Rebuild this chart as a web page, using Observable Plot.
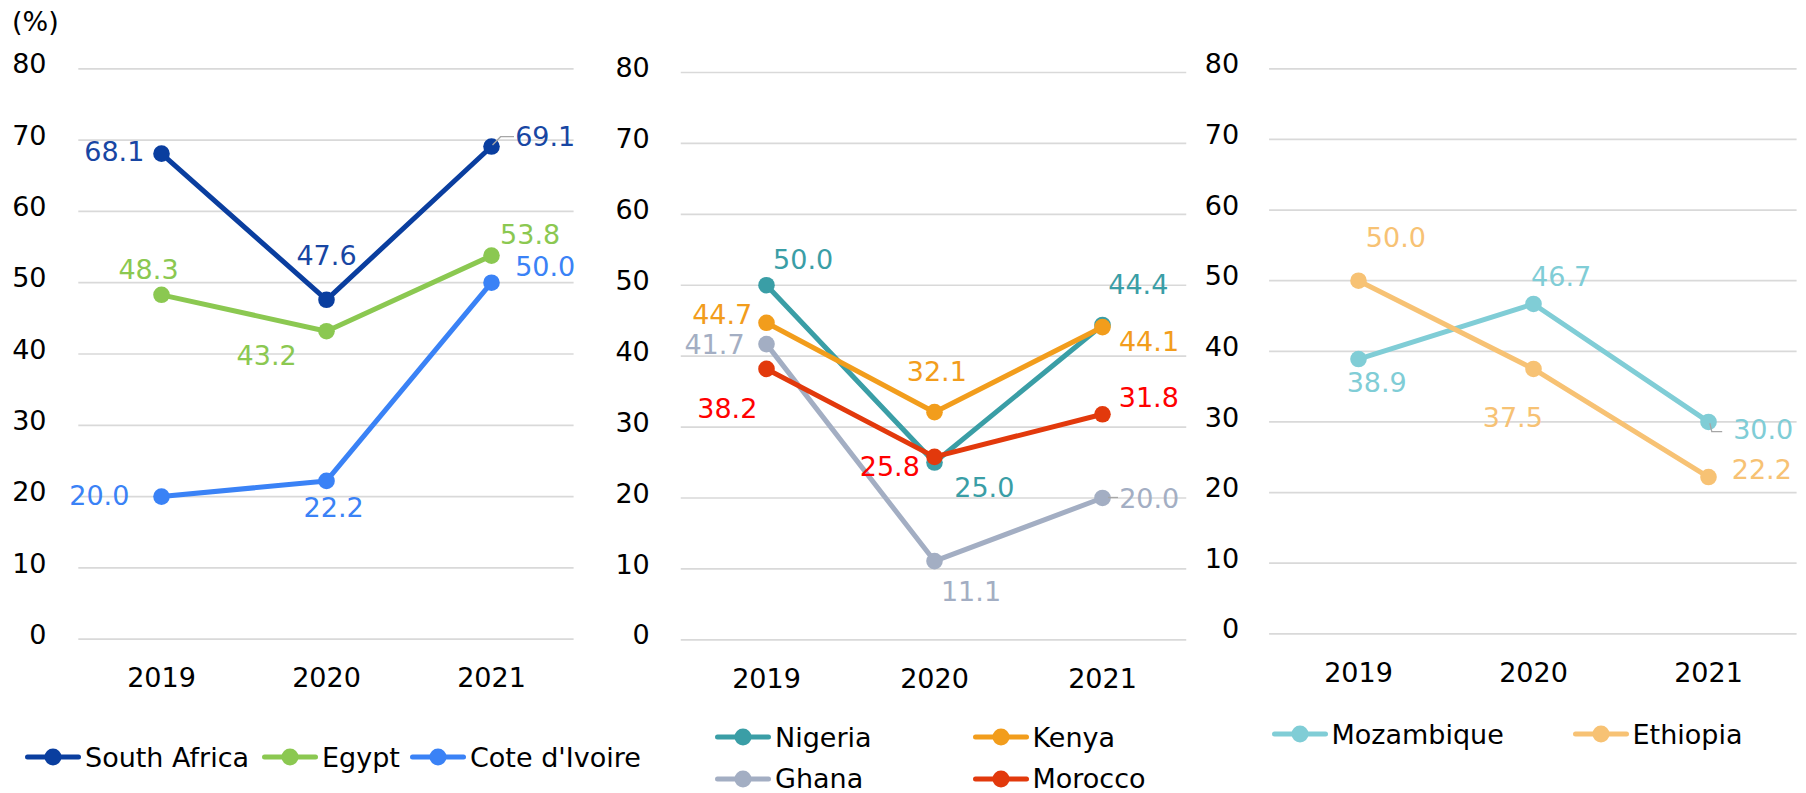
<!DOCTYPE html>
<html><head><meta charset="utf-8">
<script src="https://cdn.jsdelivr.net/npm/d3@7"></script>
<script src="https://cdn.jsdelivr.net/npm/@observablehq/plot@0.6"></script>
<style>
body{margin:0;background:#fff;}
#root{position:relative;width:1806px;height:793px;overflow:hidden;font-family:"DejaVu Sans",Verdana,sans-serif;color:#000;}
.panel{position:absolute;top:0;}
.leg{position:absolute;display:flex;align-items:center;height:30px;font-size:27px;white-space:nowrap;}
.leg span{margin-left:4px;}
#unit{position:absolute;left:12px;top:6px;font-size:27px;line-height:32px;}
</style></head><body><div id="root"><div id="unit">(%)</div></div>
<script>
// ---- data ----
const years = ["2019", "2020", "2021"];
const yTicks = [0, 10, 20, 30, 40, 50, 60, 70, 80];
// panel 1
const southAfrica = [68.1, 47.6, 69.1];
const egypt = [48.3, 43.2, 53.8];
const coteDIvoire = [20.0, 22.2, 50.0];
// panel 2
const nigeria = [50.0, 25.0, 44.4];
const kenya = [44.7, 32.1, 44.1];
const ghana = [41.7, 11.1, 20.0];
const morocco = [38.2, 25.8, 31.8];
// panel 3
const mozambique = [38.9, 46.7, 30.0];
const ethiopia = [50.0, 37.5, 22.2];

// ---- styling / placement ----
const FONT = '"DejaVu Sans",Verdana,sans-serif';
const FS = 27;
const labelOffsets = {
  "South Africa": [[-47.2, -1.5], [0, -43], [53.7, -9.3]],
  "Egypt": [[-13, -24.3], [-59.9, 25.3], [38.6, -20]],
  "Cote d'Ivoire": [[-62.2, 0], [7.1, 27.3], [53.7, -15.5]],
  "Nigeria": [[36.6, -24.8], [49.8, 26.3], [35.8, -39.5]],
  "Kenya": [[-44.3, -7.4], [2.3, -40], [46.5, 15]],
  "Ghana": [[-52, 1.5], [36.5, 31.1], [46.7, 1.5]],
  "Morocco": [[-39.2, 40], [-44.7, 10.3], [46.3, -15.5]],
  "Mozambique": [[18.2, 24.3], [27.6, -26.9], [54.7, 8.5]],
  "Ethiopia": [[37.4, -42], [-20.7, 49.8], [53.3, -6.6]]
};
const leaders = {
  "South Africa": {i: 2, pts: [[1.5, -1], [9.6, -9.3], [23, -9.3]]},
  "Ghana": {i: 2, pts: [[6, 0], [16, 0]]},
  "Mozambique": {i: 2, pts: [[1.8, 1.8], [3.8, 10.2], [14.2, 10.2]]}
};

const panels = [
  {
    series: [
      {name: "South Africa", values: southAfrica, color: "#0A3E9F", labelColor: "#1846A3"},
      {name: "Egypt", values: egypt, color: "#8BC851", labelColor: "#8BC851"},
      {name: "Cote d'Ivoire", values: coteDIvoire, color: "#3A82F6", labelColor: "#3A82F6"}
    ],
    layout: {left: 0, width: 600, mL: 78.3, mR: 26.4, mT: 68.3, mB: 61.3, tp: 32.3},
    legend: [[25, 757], [262, 757], [410, 757]]
  },
  {
    series: [
      {name: "Nigeria", values: nigeria, color: "#3A9EA6", labelColor: "#3A9EA6"},
      {name: "Kenya", values: kenya, color: "#F29D1C", labelColor: "#F29D1C"},
      {name: "Ghana", values: ghana, color: "#A3AEC3", labelColor: "#A3AEC3"},
      {name: "Morocco", values: morocco, color: "#E2390C", labelColor: "#FF0000"}
    ],
    layout: {left: 600, width: 600, mL: 80.75, mR: 13.75, mT: 72, mB: 60.7, tp: 31.5},
    legend: [[715, 737], [972.5, 737], [715, 778.5], [972.5, 778.5]]
  },
  {
    series: [
      {name: "Mozambique", values: mozambique, color: "#80CDD6", labelColor: "#80CDD6"},
      {name: "Ethiopia", values: ethiopia, color: "#F7C274", labelColor: "#F7C274"}
    ],
    layout: {left: 1200, width: 606, mL: 69.1, mR: 9.4, mT: 68.3, mB: 66.7, tp: 30.5},
    legend: [[1271.5, 734], [1572.5, 734]]
  }
];

function leaderMark(year, value, pts) {
  return (index, scales) => {
    const ns = "http://www.w3.org/2000/svg";
    const g = document.createElementNS(ns, "g");
    const x0 = scales.x(year), y0 = scales.y(value);
    const p = document.createElementNS(ns, "path");
    p.setAttribute("d", "M" + pts.map(([dx, dy]) => `${x0 + dx},${y0 + dy}`).join("L"));
    p.setAttribute("fill", "none");
    p.setAttribute("stroke", "#A6A6A6");
    p.setAttribute("stroke-width", "1.3");
    g.appendChild(p);
    return g;
  };
}

const root = document.getElementById("root");
for (const p of panels) {
  const L = p.layout;
  const marks = [
    Plot.ruleY(yTicks, {stroke: "#D9D9D9", strokeWidth: 1.7}),
    Plot.axisY(yTicks, {tickSize: 0, tickPadding: L.tp, fontSize: FS, dy: -4}),
    Plot.axisX({tickSize: 0, tickPadding: 29, fontSize: FS})
  ];
  for (const s of p.series) {
    const data = years.map((yr, i) => ({year: yr, value: s.values[i]}));
    marks.push(Plot.line(data, {x: "year", y: "value", stroke: s.color, strokeWidth: 5}));
    marks.push(Plot.dot(data, {x: "year", y: "value", fill: s.color, r: 8.3}));
  }
  for (const s of p.series) {
    const ld = leaders[s.name];
    if (ld) marks.push(leaderMark(years[ld.i], s.values[ld.i], ld.pts));
    years.forEach((yr, i) => {
      const [dx, dy] = labelOffsets[s.name][i];
      marks.push(Plot.text([{year: yr, value: s.values[i]}], {
        x: "year", y: "value", text: d => d.value.toFixed(1),
        dx, dy, textAnchor: "middle", fill: s.labelColor, fontSize: FS
      }));
    });
  }
  const chart = Plot.plot({
    width: L.width, height: 700,
    marginLeft: L.mL, marginRight: L.mR, marginTop: L.mT, marginBottom: L.mB,
    x: {type: "point", domain: years, padding: 0.5, label: null},
    y: {domain: [0, 80], label: null},
    style: {fontFamily: FONT, fontSize: FS + "px", background: "transparent", color: "#000", overflow: "visible"},
    marks
  });
  const div = document.createElement("div");
  div.className = "panel";
  div.style.left = L.left + "px";
  div.appendChild(chart);
  root.appendChild(div);

  p.series.forEach((s, k) => {
    const [lx, ly] = p.legend[k];
    const item = document.createElement("div");
    item.className = "leg";
    item.style.left = lx + "px";
    item.style.top = (ly - 15) + "px";
    item.innerHTML = `<svg width="56" height="20"><line x1="2.5" y1="10" x2="53.5" y2="10" stroke="${s.color}" stroke-width="5" stroke-linecap="round"/><circle cx="28" cy="10" r="8.5" fill="${s.color}"/></svg><span>${s.name}</span>`;
    root.appendChild(item);
  });
}
</script></body></html>
